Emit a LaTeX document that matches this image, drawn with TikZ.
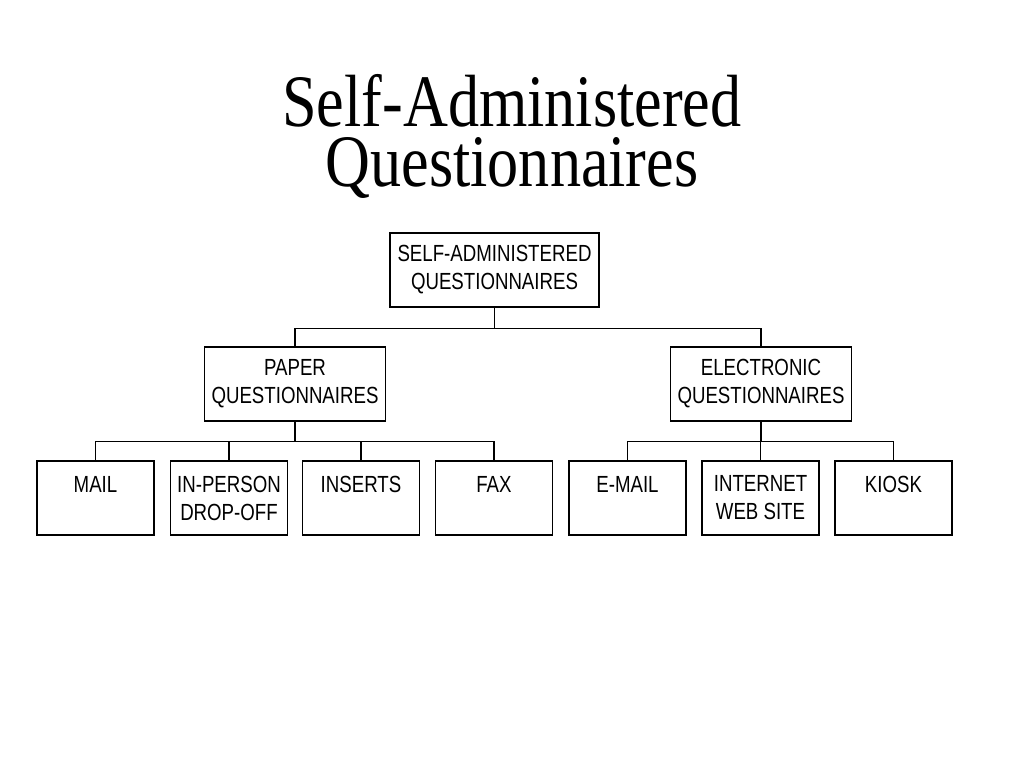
\documentclass[tikz,border=0pt]{standalone}
\usepackage{fontspec}
\setmainfont{Liberation Serif}
\newfontfamily\titlefont[FakeStretch=0.84]{Liberation Serif}
\newfontfamily\boxfont[FakeStretch=0.80]{Liberation Sans}
\usetikzlibrary{positioning}
\tikzset{
  box/.style={draw,line width=0.9pt,rectangle,inner sep=0pt,align=center,
    minimum height=55.5pt,font=\boxfont\fontsize{17.5pt}{21pt}\selectfont},
  mainbox/.style={box,minimum width=156.75pt},
  midbox/.style={box,minimum width=136pt},
  leafbox/.style={box,minimum width=87.75pt},
  link/.style={line width=0.9pt},
  titletext/.style={anchor=base,inner sep=0pt,font=\titlefont\fontsize{55.5pt}{45pt}\selectfont}
}

\begin{document}
\begin{tikzpicture}[x=0.75pt,y=-0.75pt]
\useasboundingbox (0,0) rectangle (1024,768);
\node[titletext] (title1) at (512,126) {Self-Administered};
\node[titletext] (title2) at (512,186) {Questionnaires};
% top level
\node[mainbox] (selfadm) at (494.5,270) {SELF-ADMINISTERED\\QUESTIONNAIRES};
% second level
\node[midbox] (paper) at (295,384) {PAPER\\QUESTIONNAIRES};
\node[midbox] (electronic) at (761,384) {ELECTRONIC\\QUESTIONNAIRES};
% leaves
\node[leafbox] (mail) at (95.5,498) {MAIL\\\mbox{}};
\node[leafbox] (dropoff) at (229,498) {IN-PERSON\\DROP-OFF};
\node[leafbox] (inserts) at (361,498) {INSERTS\\\mbox{}};
\node[leafbox] (fax) at (494,498) {FAX\\\mbox{}};
\node[leafbox] (email) at (627.5,498) {E-MAIL\\\mbox{}};
\node[leafbox] (website) at (760.5,498) {INTERNET\\WEB SITE};
\node[leafbox] (kiosk) at (893.5,498) {KIOSK\\\mbox{}};
% connectors
\foreach \c in {paper,electronic} {
\draw[link] (selfadm.south) -- ++(0,20.5) -| (\c.north);
};
\foreach \c in {mail,dropoff,inserts,fax} {
\draw[link] (paper.south) -- ++(0,19.5) -| (\c.north);
};
\foreach \c in {email,website,kiosk} {
\draw[link] (electronic.south) -- ++(0,19.5) -| (\c.north);
};
\end{tikzpicture}
\end{document}
